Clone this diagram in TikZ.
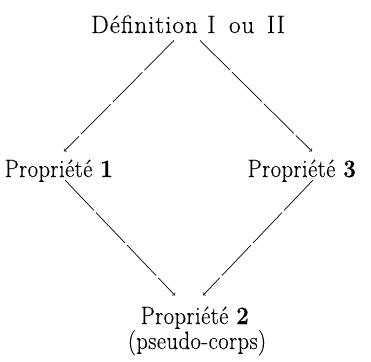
\documentclass[tikz,border=0pt]{standalone}
\usepackage{fontspec}
\setmainfont{Latin Modern Roman}[LetterSpace=2, FakeStretch=0.9, FakeBold=0.3]
\usetikzlibrary{arrows}
\tikzset{
  lbl/.style={font=\fontsize{25}{29}\selectfont, inner sep=0pt, anchor=base},
  imp/.style={->, >=to, line width=0.7pt, dash pattern=on 42pt off 3pt}
}
\begin{document}
\begin{tikzpicture}[x=1pt,y=-1pt]
  \useasboundingbox (0,0) rectangle (371,361);
  % statements
  \node[lbl] (def) at (188,33)
    {\addfontfeature{LetterSpace=4, FakeStretch=1}Définition\hspace{1pt} I\hspace{5pt} ou\hspace{4pt} II};
  \node[lbl] (p1) at (59,177) {Propriété \textbf{1}};
  \node[lbl] (p3) at (302,177) {Propriété \textbf{3}};
  \node[lbl] (p2) at (195,324) {Propriété \textbf{2}};
  \node[lbl] (pc) at (197,349) {(pseudo-corps)};
  % implications
  \draw[imp] ([xshift=-14pt,yshift=-7pt]def.south) -- ([xshift=5pt,yshift=8pt]p1.north);
  \draw[imp] ([xshift=12pt,yshift=-7pt]def.south) -- ([xshift=10pt,yshift=8pt]p3.north);
  \draw[imp] ([xshift=6pt,yshift=2pt]p1.south) -- ([xshift=-20pt,yshift=11pt]p2.north);
  \draw[imp] ([xshift=11pt,yshift=2pt]p3.south) -- ([xshift=8pt,yshift=11pt]p2.north);
\end{tikzpicture}
\end{document}
